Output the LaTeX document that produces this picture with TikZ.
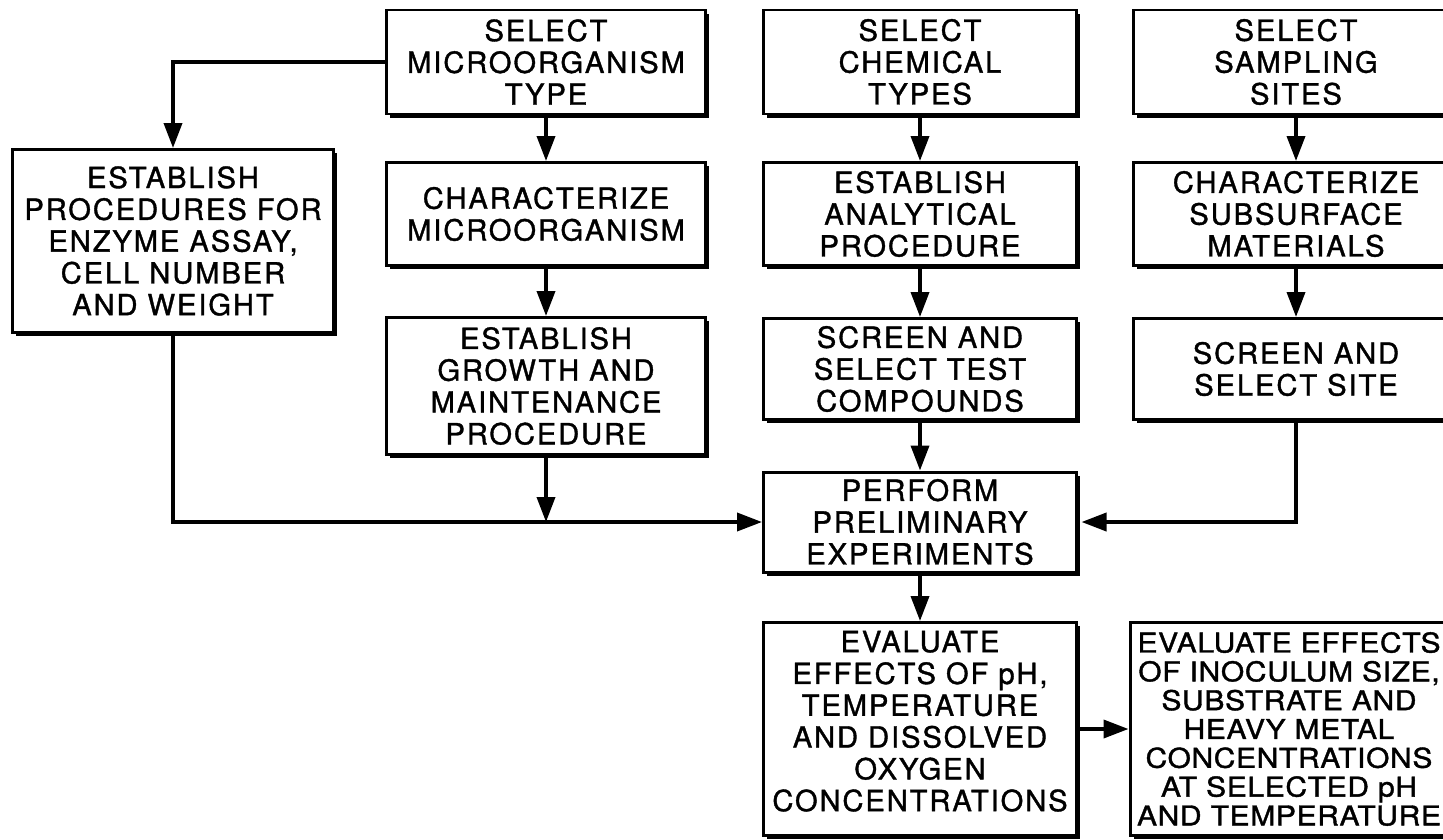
\documentclass[tikz,border=0pt]{standalone}
\usepackage{fontspec}
\setmainfont{TeX Gyre Heros}[LetterSpace=6.5, FakeBold=1.2]
\newfontfamily\narrowfont{TeX Gyre Heros}[LetterSpace=2.5, FakeStretch=1.1, FakeBold=1.4]
\usetikzlibrary{arrows.meta,shadows}
\tikzset{
  box/.style={draw, line width=1.7pt, fill=white, align=center, inner sep=0pt,
    font=\fontsize{16.6pt}{18.1pt}\selectfont,
    drop shadow={shadow xshift=0.07cm, shadow yshift=-0.07cm, opacity=1, fill=black}},
  mbox/.style={box, font=\narrowfont\fontsize{15.5pt}{16.4pt}\selectfont},
  conn/.style={line width=2.1pt, -{Triangle[length=0.5cm, width=0.36cm]}},
  plain/.style={line width=2.1pt}
}
\begin{document}
\begin{tikzpicture}[x=0.02cm, y=-0.02cm]
\useasboundingbox (0,0) rectangle (1443,839);
\clip (0,0) rectangle (1443,839);
% row 1
\node[box, minimum width={319*0.02cm}, minimum height={104*0.02cm}] (A) at (546,62) {SELECT\\MICROORGANISM\\TYPE};
\node[box, minimum width={313*0.02cm}, minimum height={104*0.02cm}] (B) at (920,62) {SELECT\\CHEMICAL\\TYPES};
\node[box, minimum width={326*0.02cm}, minimum height={104*0.02cm}] (C) at (1296,62) {SELECT\\SAMPLING\\SITES};
% row 2
\node[box, minimum width={321*0.02cm}, minimum height={183*0.02cm}] (D) at (173,241) {ESTABLISH\\PROCEDURES FOR\\ENZYME ASSAY,\\CELL NUMBER\\AND WEIGHT};
\node[box, minimum width={319*0.02cm}, minimum height={103*0.02cm}] (E) at (546,214) {CHARACTERIZE\\MICROORGANISM};
\node[box, minimum width={313*0.02cm}, minimum height={103*0.02cm}] (F) at (920,214) {ESTABLISH\\ANALYTICAL\\PROCEDURE};
\node[box, minimum width={326*0.02cm}, minimum height={103*0.02cm}] (G) at (1296,214) {CHARACTERIZE\\SUBSURFACE\\MATERIALS};
% row 3
\node[box, minimum width={319*0.02cm}, minimum height={137*0.02cm}] (H) at (546,386) {ESTABLISH\\GROWTH AND\\MAINTENANCE\\PROCEDURE};
\node[box, minimum width={313*0.02cm}, minimum height={101*0.02cm}] (I) at (920,369) {SCREEN AND\\SELECT TEST\\COMPOUNDS};
\node[box, minimum width={326*0.02cm}, minimum height={101*0.02cm}] (J) at (1296,369) {SCREEN AND\\SELECT SITE};
% row 4
\node[box, minimum width={313*0.02cm}, minimum height={100*0.02cm}] (K) at (920,522) {PERFORM\\PRELIMINARY\\EXPERIMENTS};
% row 5
\node[box, minimum width={313*0.02cm}, minimum height={213*0.02cm}] (L) at (920,729) {EVALUATE\\EFFECTS OF pH,\\TEMPERATURE\\AND DISSOLVED\\OXYGEN\\CONCENTRATIONS\\[-9pt]\mbox{}};
\node[mbox, minimum width={318*0.02cm}, minimum height={213*0.02cm}] (M) at (1289,729) {EVALUATE EFFECTS\\OF INOCULUM SIZE,\\SUBSTRATE AND\\HEAVY METAL\\CONCENTRATIONS\\AT SELECTED pH\\AND TEMPERATURE};
% connectors
\draw[conn] (A.west) -| (D.north);
\draw[conn] (A.south) -- (E.north);
\draw[conn] (E.south) -- (H.north);
\draw[conn] (B.south) -- (F.north);
\draw[conn] (F.south) -- (I.north);
\draw[conn] (I.south) -- (K.north);
\draw[conn] (C.south) -- (G.north);
\draw[conn] (G.south) -- (J.north);
\draw[conn] (D.south) |- (K.west);
\coordinate (hj) at (H.south |- K.west);
\draw[conn] (H.south) -- (hj);
\draw[conn] (J.south) |- ([xshift=0.07cm]K.east);
\draw[conn] (K.south) -- (L.north);
\draw[conn] (L.east) -- (M.west);
\end{tikzpicture}
\end{document}
